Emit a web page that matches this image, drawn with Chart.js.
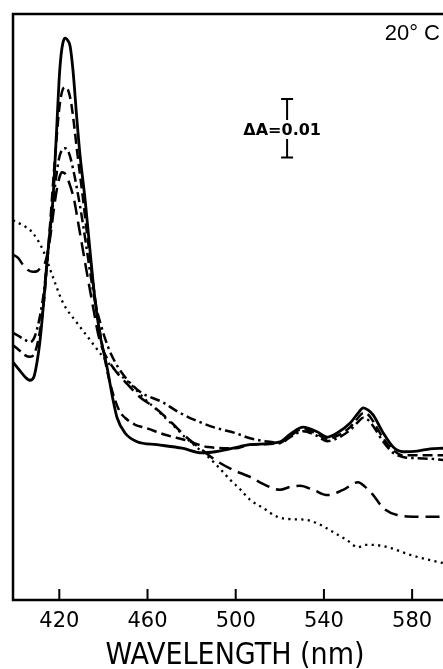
<!DOCTYPE html>
<html><head><meta charset="utf-8">
<script src="https://cdn.jsdelivr.net/npm/chart.js@4/dist/chart.umd.min.js"></script>
<style>html,body{margin:0;padding:0;background:#fff;}#wrap{width:443px;height:669px;}</style>
</head><body><div id="wrap"><canvas id="c" width="443" height="669"></canvas></div>
<script>
// Wavelength (nm) and absorbance (A, arbitrary baseline)
const solidX = [399.0,402.2,404.4,406.7,408.5,409.9,411.3,412.6,414.4,415.8,417.1,418.1,419.0,419.9,420.8,421.7,422.6,424.0,424.9,426.2,428.0,429.4,431.7,433.9,436.2,438.5,441.6,444.4,446.2,449.8,455.3,464.3,475.7,484.8,490.7,498.8,506.5,520.1,524.7,530.6,536.9,541.5,546.0,551.9,555.5,557.8,560.1,562.3,566.9,571.4,575.9,582.3,588.2,594.1];
const solidY = [0.0406,0.0391,0.0381,0.0375,0.0381,0.0406,0.0444,0.0495,0.0577,0.0631,0.0683,0.0751,0.0819,0.0887,0.0930,0.0952,0.0959,0.0954,0.0945,0.0904,0.0819,0.0759,0.0683,0.0597,0.0512,0.0452,0.0398,0.0341,0.0311,0.0285,0.0270,0.0265,0.0259,0.0251,0.0253,0.0259,0.0265,0.0270,0.0283,0.0295,0.0287,0.0278,0.0285,0.0302,0.0319,0.0328,0.0324,0.0316,0.0285,0.0261,0.0253,0.0254,0.0258,0.0259];

const dashX = [399.0,402.2,404.4,406.7,409.0,411.3,413.1,414.4,415.8,417.1,418.5,419.9,421.2,422.6,424.0,425.3,426.7,428.0,429.4,430.8,432.1,433.5,434.8,436.2,438.5,440.7,443.0,445.3,447.5,449.8,454.4,458.9,468.0,477.0,487.5,499.7,506.5,520.1,524.7,530.6,536.9,541.5,546.0,551.9,555.5,557.8,560.1,562.3,566.9,571.4,575.9,582.3,588.2,594.1];
const dashY = [0.0435,0.0425,0.0418,0.0415,0.0423,0.0461,0.0512,0.0572,0.0640,0.0708,0.0776,0.0836,0.0867,0.0875,0.0870,0.0850,0.0811,0.0768,0.0725,0.0683,0.0640,0.0597,0.0555,0.0515,0.0456,0.0410,0.0370,0.0341,0.0321,0.0311,0.0299,0.0294,0.0282,0.0273,0.0261,0.0259,0.0265,0.0268,0.0280,0.0292,0.0283,0.0275,0.0280,0.0295,0.0311,0.0319,0.0316,0.0305,0.0276,0.0256,0.0247,0.0247,0.0247,0.0247];

const dashDotX = [399.0,402.2,404.4,406.7,409.0,411.3,413.1,414.4,415.8,417.1,418.5,419.9,421.2,422.6,424.0,425.3,427.1,428.9,430.8,432.6,434.4,436.2,438.5,442.1,445.3,448.5,453.0,457.5,466.6,473.9,481.6,490.7,499.7,506.5,513.3,520.1,524.7,530.6,536.9,541.5,546.0,551.9,555.5,557.8,560.1,562.3,566.9,571.4,575.9,582.3,588.2,594.1];
const dashDotY = [0.0456,0.0449,0.0444,0.0440,0.0451,0.0486,0.0529,0.0577,0.0623,0.0674,0.0720,0.0754,0.0768,0.0771,0.0766,0.0751,0.0720,0.0683,0.0640,0.0594,0.0549,0.0509,0.0474,0.0432,0.0406,0.0387,0.0367,0.0353,0.0338,0.0321,0.0307,0.0294,0.0285,0.0276,0.0271,0.0268,0.0278,0.0288,0.0280,0.0271,0.0276,0.0290,0.0304,0.0311,0.0307,0.0297,0.0270,0.0251,0.0244,0.0242,0.0241,0.0239];

const longDashX = [399.0,401.3,403.5,405.8,408.1,409.9,411.7,413.5,414.9,416.2,417.6,419.0,420.3,421.2,422.1,423.1,424.9,426.7,428.5,430.3,432.1,433.9,435.7,437.6,439.8,445.3,451.2,456.6,463.4,471.1,477.0,483.8,490.7,498.8,506.5,512.4,520.1,524.7,529.2,535.1,541.5,548.7,555.5,558.7,561.9,566.9,573.2,582.3,594.1];
const longDashY = [0.0589,0.0584,0.0572,0.0563,0.0560,0.0561,0.0568,0.0575,0.0597,0.0628,0.0669,0.0703,0.0724,0.0730,0.0729,0.0725,0.0707,0.0683,0.0645,0.0606,0.0567,0.0529,0.0492,0.0454,0.0427,0.0392,0.0367,0.0346,0.0328,0.0302,0.0280,0.0259,0.0239,0.0222,0.0210,0.0198,0.0188,0.0193,0.0195,0.0188,0.0179,0.0188,0.0201,0.0193,0.0181,0.0157,0.0145,0.0142,0.0142];

const dotX = [399.0,403.1,407.6,412.6,417.1,421.7,428.0,433.9,439.8,446.2,452.1,458.0,464.3,471.1,477.0,483.8,488.4,492.9,497.5,502.0,506.5,512.4,518.8,524.7,531.5,536.9,542.8,550.5,555.5,558.7,562.3,570.0,579.1,588.2,594.1];
const dotY = [0.0648,0.0640,0.0628,0.0597,0.0551,0.0507,0.0473,0.0444,0.0415,0.0389,0.0369,0.0346,0.0324,0.0300,0.0278,0.0256,0.0241,0.0224,0.0205,0.0189,0.0171,0.0157,0.0142,0.0138,0.0137,0.0131,0.0119,0.0102,0.0090,0.0094,0.0094,0.0089,0.0077,0.0068,0.0063];

const xTicks = [420, 460, 500, 540, 580];
const xTitle = 'WAVELENGTH (nm)';
const tempLabel = '20° C';
const scaleBarLabel = 'ΔA=0.01';
const scaleBarX = 523.3;     // nm
const scaleBarTop = 0.0855;  // A
const scaleBarDelta = 0.01;  // A

const pts = (xs, ys) => xs.map((x, i) => ({x, y: ys[i]}));
const mk = (label, xs, ys, dash, w) => ({
  label, data: pts(xs, ys), borderColor: '#000', backgroundColor: '#000',
  borderWidth: w, borderDash: dash, pointRadius: 0, fill: false,
  cubicInterpolationMode: 'monotone', borderCapStyle: 'butt', borderJoinStyle: 'round'
});

const deco = {
  id: 'deco',
  afterDraw(chart) {
    const {ctx, chartArea: a, scales: {x, y}} = chart;
    ctx.save();
    ctx.strokeStyle = '#000'; ctx.fillStyle = '#000';
    ctx.lineCap = 'butt';
    // frame
    ctx.lineWidth = 2.5;
    ctx.beginPath();
    ctx.moveTo(a.right, a.top); ctx.lineTo(a.left, a.top);
    ctx.lineTo(a.left, a.bottom); ctx.lineTo(a.right, a.bottom);
    ctx.stroke();
    // inward ticks
    ctx.lineWidth = 2;
    ctx.beginPath();
    xTicks.forEach(v => { const p = x.getPixelForValue(v); ctx.moveTo(p, a.bottom); ctx.lineTo(p, a.bottom - 11); });
    ctx.stroke();
    // tick labels
    ctx.font = '21px "DejaVu Sans"';
    ctx.textAlign = 'center'; ctx.textBaseline = 'middle';
    xTicks.forEach(v => ctx.fillText(String(v), x.getPixelForValue(v), a.bottom + 22));
    // axis title
    ctx.font = '30px "Liberation Sans Narrow", "DejaVu Sans Condensed", "Liberation Sans"';
    ctx.fillText(xTitle, 235, a.bottom + 56);
    // temperature
    ctx.font = '22px "Liberation Sans"';
    ctx.textAlign = 'right';
    ctx.fillText(tempLabel, 440, 34);
    // scale bar
    const bx = x.getPixelForValue(scaleBarX);
    const y1 = y.getPixelForValue(scaleBarTop), y2 = y.getPixelForValue(scaleBarTop - scaleBarDelta);
    const ty = 130;
    ctx.lineWidth = 2;
    ctx.beginPath();
    ctx.moveTo(bx - 6, y1); ctx.lineTo(bx + 6, y1);
    ctx.moveTo(bx, y1); ctx.lineTo(bx, ty - 10);
    ctx.moveTo(bx, ty + 9); ctx.lineTo(bx, y2);
    ctx.moveTo(bx - 6, y2); ctx.lineTo(bx + 6, y2);
    ctx.stroke();
    ctx.font = 'bold 16px "DejaVu Sans"';
    ctx.textAlign = 'left';
    const pre = ctx.measureText('ΔA=').width, zw = ctx.measureText('0').width;
    ctx.fillText(scaleBarLabel, bx - pre - zw / 2, ty + 1);
    ctx.restore();
  }
};

new Chart(document.getElementById('c'), {
  type: 'line',
  data: { datasets: [
    mk('solid', solidX, solidY, [], 2.8),
    mk('dashed', dashX, dashY, [10, 5], 2.5),
    mk('dash-dot', dashDotX, dashDotY, [10, 4, 2.5, 4], 2.5),
    mk('long dash', longDashX, longDashY, [14, 7], 2.5),
    mk('dotted', dotX, dotY, [2.2, 4.3], 2.3)
  ]},
  options: {
    responsive: false, animation: false, devicePixelRatio: 1,
    layout: { padding: { left: 13, top: 14, right: 0, bottom: 69 } },
    plugins: { legend: { display: false }, tooltip: { enabled: false } },
    scales: {
      x: { type: 'linear', min: 399, max: 594, display: false },
      y: { type: 'linear', min: 0, max: 0.1, display: false }
    }
  },
  plugins: [deco]
});
</script></body></html>
